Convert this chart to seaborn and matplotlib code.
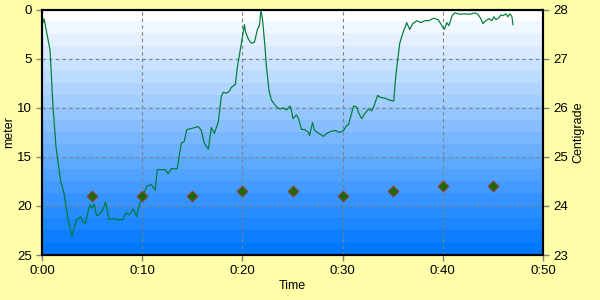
import numpy as np
import pandas as pd
import matplotlib
matplotlib.use("Agg")
import matplotlib.pyplot as plt
import seaborn as sns

# ---- data ----
time_min = [0.0, 0.1, 0.2, 0.3, 0.5, 0.8, 1.1, 1.4, 1.85, 2.2, 2.6, 3.0, 3.2, 3.45, 3.85,
            4.1, 4.3, 4.6, 4.8, 5.0, 5.2, 5.45, 5.8, 6.1, 6.35, 6.7, 7.1, 7.5, 8.05, 8.4,
            8.7, 9.1, 9.45, 9.7, 10.1, 10.45, 10.9, 11.3, 11.5, 12.1, 12.3, 12.6, 12.9,
            13.5, 13.9, 14.2, 14.45, 14.9, 15.6, 15.9, 16.2, 16.6, 16.9, 17.2, 17.6, 17.9,
            18.1, 18.4, 18.7, 18.9, 19.3, 19.5, 19.9, 20.2, 20.3, 20.6, 20.9, 21.2, 21.5,
            21.7, 21.85, 22.0, 22.25, 22.4, 22.65, 22.9, 23.4, 23.7, 24.1, 24.4, 24.75,
            24.9, 25.05, 25.4, 25.6, 25.9, 26.2, 26.6, 26.7, 27.0, 27.2, 27.5, 28.1, 28.4,
            28.8, 29.3, 29.7, 30.1, 30.4, 30.6, 30.8, 31.1, 31.4, 31.6, 31.9, 32.2, 32.6,
            32.9, 33.1, 33.5, 33.7, 34.2, 34.7, 35.1, 35.3, 35.5, 35.7, 36.0, 36.4, 36.7,
            37.0, 37.4, 37.8, 38.2, 38.6, 39.1, 39.55, 39.9, 40.15, 40.4, 40.6, 40.95,
            41.2, 41.7, 42.2, 42.7, 43.2, 43.5, 43.8, 44.0, 44.3, 44.6, 44.9, 45.1, 45.3,
            45.6, 45.8, 46.0, 46.3, 46.5, 46.7, 46.9, 47.0]
depth_m = [1.0, 1.3, 0.9, 1.4, 2.5, 4.1, 9.9, 14.0, 17.4, 18.7, 21.4, 23.1, 22.2, 21.4, 21.1,
           21.6, 21.8, 20.5, 19.9, 20.2, 19.8, 21.0, 20.8, 20.3, 19.6, 21.4, 21.3, 21.4,
           21.4, 20.7, 20.9, 20.3, 21.1, 19.9, 18.9, 18.0, 17.8, 18.4, 16.3, 16.3, 16.3,
           16.7, 16.2, 16.2, 13.6, 13.4, 12.2, 12.1, 11.9, 12.3, 13.6, 14.2, 12.0, 12.6,
           11.4, 8.8, 8.4, 8.5, 8.3, 7.9, 7.6, 5.8, 3.4, 1.5, 2.2, 3.0, 3.4, 3.3, 2.0,
           1.6, 0.05, 0.9, 3.7, 5.8, 8.2, 9.2, 9.9, 10.1, 10.0, 10.2, 9.8, 10.3, 11.1,
           10.7, 11.1, 12.2, 12.2, 12.5, 12.8, 11.5, 12.3, 12.5, 12.9, 12.6, 12.4, 12.3,
           12.5, 12.3, 11.8, 11.7, 10.9, 9.8, 9.9, 10.5, 11.1, 10.6, 10.1, 10.3, 9.9,
           8.7, 8.9, 9.0, 9.2, 9.3, 6.8, 5.1, 3.4, 2.4, 1.3, 2.0, 1.4, 1.1, 1.3, 1.1,
           1.1, 0.85, 1.0, 1.6, 2.0, 1.3, 1.6, 0.55, 0.3, 0.45, 0.4, 0.45, 0.3, 0.45,
           0.9, 1.4, 1.1, 0.9, 1.1, 0.7, 1.0, 0.8, 0.5, 0.6, 0.4, 0.7, 0.4, 0.7, 1.5]
temp_time_min = [5, 10, 15, 20, 25, 30, 35, 40, 45]
temp_c = [24.2, 24.2, 24.2, 24.3, 24.3, 24.2, 24.3, 24.4, 24.4]
x_ticks = [0, 10, 20, 30, 40, 50]
x_tick_labels = ["0:00", "0:10", "0:20", "0:30", "0:40", "0:50"]
depth_ticks = [0, 5, 10, 15, 20, 25]
temp_ticks = [23, 24, 25, 26, 27, 28]

plt.rcParams['font.family'] = ['Liberation Sans', 'DejaVu Sans']
plt.rcParams['font.size'] = 9

depth_df = pd.DataFrame({"time": time_min, "depth": depth_m})
temp_df = pd.DataFrame({"time": temp_time_min, "temp": temp_c})

fig = plt.figure(figsize=(6, 3), dpi=100, facecolor="#FFFFAA")
ax = fig.add_axes([0.07, 0.15, 0.835, 0.817])

# banded gradient background
n_bands = 20
top = np.array([1.0, 1.0, 1.0])
bot = np.array([0.0, 0.47, 1.0])
fr = np.linspace(0, 1, n_bands)
cols = top[None, :] * (1 - fr[:, None]) + bot[None, :] * fr[:, None]
img = cols[:, None, :]
ax.imshow(img, extent=[0, 50, 25, 0], aspect="auto", zorder=0, interpolation="nearest")

sns.lineplot(data=depth_df, x="time", y="depth", ax=ax, color="#007A33", linewidth=0.85,
             zorder=3, estimator=None, sort=False)
ax.set_xlim(0, 50)
ax.set_ylim(25, 0)
ax.set_xticks(x_ticks)
ax.set_xticklabels(x_tick_labels)
ax.set_yticks(depth_ticks)
ax.grid(True, color="#7F7F7F", linestyle=(0, (3, 3)), linewidth=0.8)
ax.set_axisbelow(False)
ax.set_xlabel("Time", labelpad=2)
ax.set_ylabel("meter", labelpad=1)
for s in ax.spines.values():
    s.set_color("black")
    s.set_linewidth(1.5)
ax.tick_params(direction="out", length=4, width=1, color="#808080", labelsize=9.5)

ax2 = ax.twinx()
sns.scatterplot(data=temp_df, x="time", y="temp", ax=ax2, marker="D", s=30,
                color="#1A6A0A", edgecolor="#A03A2A", linewidth=0.7, zorder=4)
ax2.set_ylim(23, 28)
ax2.set_yticks(temp_ticks)
ax2.set_ylabel("Centigrade", labelpad=3)
ax2.tick_params(direction="out", length=4, width=1, color="#808080", labelsize=9.5)
for s in ax2.spines.values():
    s.set_color("black")
    s.set_linewidth(1.5)
ax2.set_xlim(0, 50)

fig.savefig("out.png", dpi=100, facecolor=fig.get_facecolor())
